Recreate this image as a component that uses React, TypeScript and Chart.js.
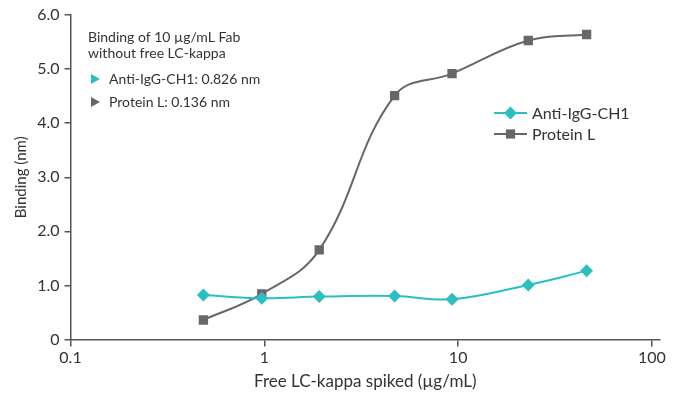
import React, { useEffect, useRef } from 'react';
import { Chart, registerables } from 'chart.js';

Chart.register(...registerables);

const concentrations = [0.485, 0.97, 1.92, 4.7, 9.3, 23, 46];
const antiIgG = [0.824, 0.763, 0.793, 0.806, 0.744, 1.009, 1.269];
const proteinL = [0.361, 0.843, 1.657, 4.509, 4.917, 5.528, 5.639];
const xTicks = [0.1, 1, 10, 100];
const seriesNames = ['Anti-IgG-CH1', 'Protein L'];
const noteTitle = ['Binding of 10 µg/mL Fab', 'without free LC-kappa'];
const noteItems = ['Anti-IgG-CH1: 0.826 nm', 'Protein L: 0.136 nm'];
const xTitle = 'Free LC-kappa spiked (µg/mL)';
const yTitle = 'Binding (nm)';

const TEAL = '#2BBFBF';
const GRAY = '#67676B';
const TEXT = '#333333';
const AXIS = '#555555';
const FONT = 'Lato, "Noto Sans", sans-serif';

const overlayPlugin = {
  id: 'overlay',
  afterDraw(chart: any) {
    const ctx = chart.ctx as CanvasRenderingContext2D;
    ctx.save();
    ctx.fillStyle = TEXT;
    ctx.font = `14px ${FONT}`;
    ctx.textBaseline = 'alphabetic';
    ctx.textAlign = 'left';
    ctx.fillText(noteTitle[0], 88, 42);
    ctx.fillText(noteTitle[1], 88, 58);
    const colors = [TEAL, GRAY];
    const rowY = [79, 102];
    noteItems.forEach((t, i) => {
      ctx.fillStyle = colors[i];
      ctx.beginPath();
      ctx.moveTo(91, rowY[i] - 5);
      ctx.lineTo(100, rowY[i]);
      ctx.lineTo(91, rowY[i] + 5);
      ctx.closePath();
      ctx.fill();
      ctx.fillStyle = TEXT;
      ctx.fillText(t, 109, rowY[i] + 5);
    });
    const legY = [113, 134];
    const styles = ['rectRot', 'rect'];
    ctx.font = `16px ${FONT}`;
    seriesNames.forEach((name, i) => {
      ctx.strokeStyle = colors[i];
      ctx.lineWidth = 2;
      ctx.beginPath();
      ctx.moveTo(494, legY[i]);
      ctx.lineTo(527, legY[i]);
      ctx.stroke();
      ctx.fillStyle = colors[i];
      ctx.beginPath();
      if (styles[i] === 'rectRot') {
        const r = 6.5;
        ctx.moveTo(510.5 - r, legY[i]);
        ctx.lineTo(510.5, legY[i] - r);
        ctx.lineTo(510.5 + r, legY[i]);
        ctx.lineTo(510.5, legY[i] + r);
        ctx.closePath();
      } else {
        ctx.rect(510.5 - 4.6, legY[i] - 4.6, 9.2, 9.2);
      }
      ctx.fill();
      ctx.fillStyle = TEXT;
      ctx.fillText(name, 532, legY[i] + 5.5);
    });
    ctx.restore();
  },
};

export default function App() {
  const ref = useRef<HTMLCanvasElement>(null);
  useEffect(() => {
    document.body.style.margin = '0';
    const canvas = ref.current!;
    const chart = new Chart(canvas, {
      type: 'line',
      data: {
        datasets: [
          {
            label: seriesNames[0],
            data: concentrations.map((x, i) => ({ x, y: antiIgG[i] })),
            borderColor: TEAL,
            backgroundColor: TEAL,
            borderWidth: 2,
            pointStyle: 'rectRot',
            pointRadius: 6.5,
            pointBorderWidth: 0,
            tension: 0.4,
          },
          {
            label: seriesNames[1],
            data: concentrations.map((x, i) => ({ x, y: proteinL[i] })),
            borderColor: GRAY,
            backgroundColor: GRAY,
            borderWidth: 2,
            pointStyle: 'rect',
            pointRadius: 6.6,
            pointBorderWidth: 0,
            tension: 0.4,
          },
        ],
      },
      options: {
        responsive: false,
        animation: false,
        layout: { padding: { left: 0, right: 21, top: 15, bottom: 0 } },
        plugins: { legend: { display: false }, tooltip: { enabled: false } },
        scales: {
          x: {
            type: 'logarithmic',
            min: 0.1,
            max: 110,
            afterBuildTicks: (scale: any) => {
              scale.ticks = xTicks.map((v) => ({ value: v }));
            },
            afterFit: (scale: any) => {
              scale.height = 57.5;
            },
            grid: { drawOnChartArea: false, drawTicks: true, tickLength: 7, color: AXIS, lineWidth: 1.5 },
            border: { color: AXIS, width: 1.5 },
            ticks: {
              color: TEXT,
              font: { family: FONT, size: 16 },
              padding: 2,
              maxRotation: 0,
              autoSkip: false,
              callback: (v: any) => String(v),
            },
            title: {
              display: true,
              text: xTitle,
              color: TEXT,
              font: { family: FONT, size: 17 },
              padding: { top: 0, bottom: 5 },
            },
          },
          y: {
            min: 0,
            max: 6,
            afterFit: (scale: any) => {
              scale.width = 70.5;
            },
            grid: { drawOnChartArea: false, drawTicks: true, tickLength: 6, color: AXIS, lineWidth: 1.5 },
            border: { color: AXIS, width: 1.5 },
            ticks: {
              stepSize: 1,
              color: TEXT,
              font: { family: FONT, size: 16 },
              padding: 5,
              callback: (v: any) => (v === 0 ? '0' : Number(v).toFixed(1)),
            },
            title: {
              display: true,
              text: yTitle,
              color: TEXT,
              font: { family: FONT, size: 15 },
              padding: { top: 12, bottom: 0 },
            },
          },
        },
      },
      plugins: [overlayPlugin],
    });
    return () => chart.destroy();
  }, []);
  return <canvas ref={ref} width={681} height={397} style={{ display: 'block' }} />;
}
